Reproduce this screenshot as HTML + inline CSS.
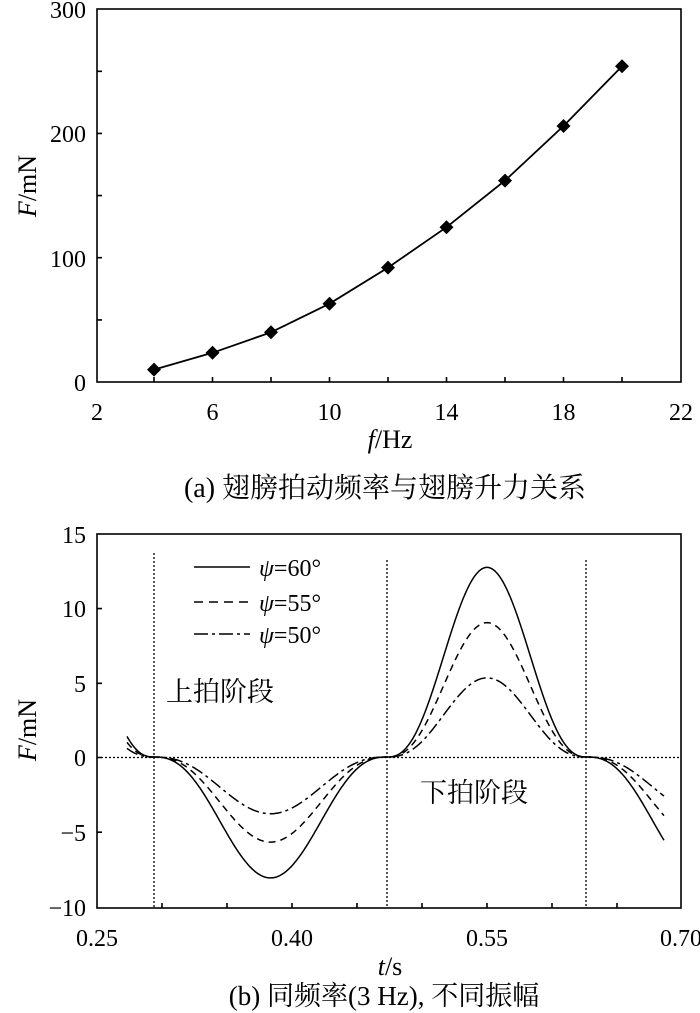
<!DOCTYPE html>
<html><head><meta charset="utf-8"><style>
html,body{margin:0;padding:0;background:#fff;}
svg{display:block;font-family:"Liberation Serif","Noto Serif CJK SC",serif;}
</style></head><body>
<svg id="s" width="700" height="1013" viewBox="0 0 700 1013" xmlns="http://www.w3.org/2000/svg">
<g fill="none" stroke="#000" stroke-width="1.6">
<rect x="97" y="9" width="584" height="373"/>
<path d="M154 382v-5M212.5 382v-5M271 382v-5M329.5 382v-5M388 382v-5M446.5 382v-5M505 382v-5M563.5 382v-5M622 382v-5M97 319.9h5M97 257.7h5M97 195.6h5M97 133.4h5M97 71.3h5"/>
<polyline stroke-width="1.8" points="154,369.6 212.5,352.8 271,332.3 329.5,303.7 388,267.6 446.5,227.2 505,180.6 563.5,126 622,66.3"/>
</g>
<g fill="#000" id="dm"></g>
<g font-size="24" fill="#000" text-anchor="end">
<text x="86" y="18">300</text><text x="86" y="142">200</text><text x="86" y="267">100</text><text x="86" y="391">0</text>
</g>
<g font-size="24" fill="#000" text-anchor="middle">
<text x="97" y="420">2</text><text x="212.5" y="420">6</text><text x="329.5" y="420">10</text><text x="446.5" y="420">14</text><text x="563.5" y="420">18</text><text x="681" y="420">22</text>
<text x="390" y="448" font-size="26"><tspan font-style="italic">f</tspan>/Hz</text>
<text x="385" y="497" font-size="28" font-family="Liberation Serif, Noto Serif CJK SC, serif">(a) 翅膀拍动频率与翅膀升力关系</text>
<text transform="translate(36,186) rotate(-90)" font-size="26"><tspan font-style="italic">F</tspan>/mN</text>
</g>

<g fill="none" stroke="#000" stroke-width="1.6">
<rect x="97" y="534" width="584" height="374"/>
<path d="M162 908v-5M227 908v-5M292 908v-5M357 908v-5M422 908v-5M487 908v-5M552 908v-5M617 908v-5M97 608.6h5M97 683.3h5M97 757.5h5M97 832.2h5"/>
</g>
<g fill="none" stroke="#000" stroke-width="1.3" stroke-dasharray="2,2">
<path d="M97 757.5H681M154 553V908M387 560V908M586 560V908"/>
</g>
<g fill="none" stroke="#000" stroke-width="1.5" id="cv"></g>
<g fill="none" stroke="#000" stroke-width="1.5">
<path d="M194 567h56"/><path d="M194 602h56" stroke-dasharray="9,6"/><path d="M194 634h56" stroke-dasharray="14,4,3,4"/>
</g>
<g font-size="24" fill="#000">
<text x="259" y="576"><tspan font-style="italic">ψ</tspan>=60°</text>
<text x="259" y="611"><tspan font-style="italic">ψ</tspan>=55°</text>
<text x="259" y="643"><tspan font-style="italic">ψ</tspan>=50°</text>
<text x="166" y="701" font-family="Noto Serif CJK SC, serif" font-size="27">上拍阶段</text>
<text x="420" y="802" font-family="Noto Serif CJK SC, serif" font-size="27">下拍阶段</text>
</g>
<g font-size="24" fill="#000" text-anchor="end">
<text x="86" y="543">15</text><text x="86" y="617">10</text><text x="86" y="692">5</text><text x="86" y="766">0</text><text x="86" y="841">−5</text><text x="86" y="916">−10</text>
</g>
<g font-size="24" fill="#000" text-anchor="middle">
<text x="97" y="946">0.25</text><text x="292" y="946">0.40</text><text x="487" y="946">0.55</text><text x="681" y="946">0.70</text>
<text x="390" y="975" font-size="26"><tspan font-style="italic">t</tspan>/s</text>
<text x="384" y="1005" font-size="27" font-family="Liberation Serif, Noto Serif CJK SC, serif">(b) 同频率(3 Hz), 不同振幅</text>
<text transform="translate(36,730) rotate(-90)" font-size="26"><tspan font-style="italic">F</tspan>/mN</text>
</g>
</svg>
<script>
var NS="http://www.w3.org/2000/svg";
var dm=document.getElementById("dm");
[[154,369.6],[212.5,352.8],[271,332.3],[329.5,303.7],[388,267.6],[446.5,227.2],[505,180.6],[563.5,126],[622,66.3]].forEach(function(p){
var e=document.createElementNS(NS,"polygon");
e.setAttribute("points",(p[0])+","+(p[1]-7)+" "+(p[0]+7)+","+p[1]+" "+p[0]+","+(p[1]+7)+" "+(p[0]-7)+","+p[1]);
dm.appendChild(e);});
var cv=document.getElementById("cv");
var sets=[[8.1,12.7,""],[5.7,9.0,"7,5"],[3.8,5.3,"12,4,3,4"]];
var y0=757,sc=14.93;
function val(x,A,B){
 var a=154,b=387,c=587;
 if(x<a){var u=(x-(a-(c-b)))/(c-b);return B*Math.pow(Math.abs(Math.sin(Math.PI*u)),2.5);}
 if(x<b){var u=(x-a)/(b-a);return -A*Math.pow(Math.sin(Math.PI*u),2.5);}
 if(x<c){var u=(x-b)/(c-b);return B*Math.pow(Math.sin(Math.PI*u),2.5);}
 var u=(x-c)/(b-a);return -A*Math.pow(Math.sin(Math.PI*u),2.5);
}
sets.forEach(function(s){
 var d="";for(var x=127;x<=664;x+=1){var y=y0-sc*val(x,s[0],s[1]);d+=(x==127?"M":"L")+x+" "+y.toFixed(1);}
 var e=document.createElementNS(NS,"path");e.setAttribute("d",d);
 if(s[2])e.setAttribute("stroke-dasharray",s[2]);cv.appendChild(e);
});
</script>
</body></html>
